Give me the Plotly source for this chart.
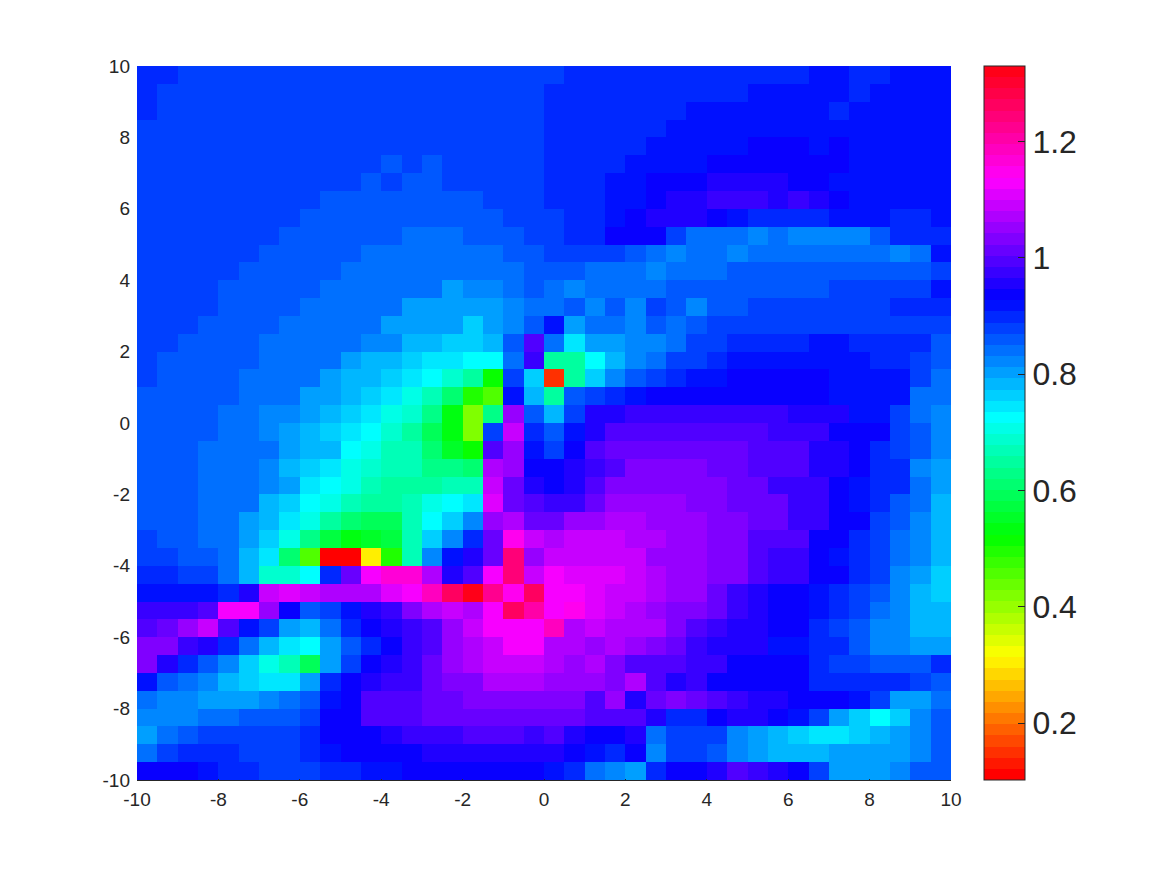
import colorsys
import plotly.graph_objects as go

x_centers = [-9.75,-9.25,-8.75,-8.25,-7.75,-7.25,-6.75,-6.25,-5.75,-5.25,
             -4.75,-4.25,-3.75,-3.25,-2.75,-2.25,-1.75,-1.25,-0.75,-0.25,
             0.25,0.75,1.25,1.75,2.25,2.75,3.25,3.75,4.25,4.75,
             5.25,5.75,6.25,6.75,7.25,7.75,8.25,8.75,9.25,9.75]
y_centers = list(reversed(x_centers))
tick_vals = [-10,-8,-6,-4,-2,0,2,4,6,8,10]
tick_text = ["-10","-8","-6","-4","-2","0","2","4","6","8","10"]
y_tick_vals = [-10,-8,-6,-4,-2,0,2,4,6,8,10]
bar_ticks = [0.2,0.4,0.6,0.8,1.0,1.2]
bar_text = ["0.2","0.4","0.6","0.8","1","1.2"]
z_min = 0.102
z_max = 1.33
n_levels = 64
level_center_shift = 0.0095

z_rows = [
[.895,.895,.87,.87,.87,.87,.87,.87,.87,.87, .87,.87,.87,.87,.87,.87,.87,.87,.87,.87, .86,.885,.885,.885,.885,.885,.885,.885,.885,.885, .885,.885,.885,.905,.905,.885,.885,.915,.915,.915],
[.895,.87,.87,.87,.87,.87,.87,.87,.87,.87, .87,.87,.87,.87,.87,.87,.87,.87,.87,.87, .885,.885,.885,.885,.885,.885,.885,.885,.885,.885, .905,.905,.905,.905,.905,.885,.915,.915,.915,.915],
[.895,.87,.87,.87,.87,.87,.87,.87,.87,.87, .87,.87,.87,.87,.87,.87,.87,.87,.87,.87, .885,.885,.885,.885,.885,.885,.885,.91,.91,.91, .91,.91,.91,.91,.885,.915,.915,.915,.915,.915],
[.87,.87,.87,.87,.87,.87,.87,.87,.87,.87, .87,.87,.87,.87,.87,.87,.87,.87,.87,.87, .885,.885,.885,.885,.885,.885,.915,.915,.915,.915, .915,.915,.915,.915,.915,.915,.915,.915,.915,.915],
[.87,.87,.87,.87,.87,.87,.87,.87,.87,.87, .87,.87,.87,.87,.87,.87,.87,.87,.87,.87, .885,.885,.885,.885,.885,.915,.915,.915,.915,.915, .92,.92,.92,.915,.92,.915,.915,.915,.915,.915],
[.87,.87,.87,.87,.87,.87,.87,.87,.87,.87, .87,.87,.855,.87,.855,.87,.87,.87,.87,.87, .885,.885,.885,.885,.91,.91,.91,.91,.92,.92, .92,.92,.92,.92,.92,.915,.915,.915,.915,.915],
[.87,.87,.87,.87,.87,.87,.87,.87,.87,.87, .87,.855,.87,.855,.855,.87,.87,.87,.87,.87, .885,.885,.885,.91,.91,.92,.92,.92,.94,.94, .94,.94,.92,.92,.91,.91,.91,.91,.91,.91],
[.87,.87,.87,.87,.87,.87,.87,.87,.87,.855, .855,.855,.855,.855,.855,.855,.855,.87,.87,.87, .885,.885,.885,.91,.91,.92,.945,.945,.965,.965, .965,.94,.97,.95,.925,.91,.91,.91,.91,.91],
[.87,.87,.87,.87,.87,.87,.87,.87,.855,.855, .855,.855,.855,.855,.855,.855,.855,.855,.87,.87, .87,.885,.885,.91,.925,.945,.945,.945,.92,.915, .885,.885,.885,.885,.91,.91,.91,.885,.885,.905],
[.87,.87,.87,.87,.87,.87,.87,.855,.855,.855, .855,.855,.855,.84,.84,.84,.855,.855,.855,.87, .865,.885,.885,.92,.92,.92,.87,.835,.835,.835, .815,.835,.81,.81,.81,.81,.85,.885,.885,.885],
[.87,.87,.87,.87,.87,.87,.855,.855,.855,.855, .855,.84,.84,.84,.84,.84,.84,.84,.855,.855, .87,.87,.87,.87,.855,.835,.815,.83,.83,.815, .83,.83,.83,.83,.83,.83,.83,.815,.825,.91],
[.87,.87,.87,.87,.87,.855,.855,.855,.855,.855, .84,.84,.84,.825,.825,.825,.825,.84,.84,.855, .855,.855,.84,.84,.84,.82,.835,.835,.835,.85, .85,.85,.85,.85,.85,.85,.85,.85,.85,.87],
[.87,.87,.87,.87,.855,.855,.855,.855,.855,.84, .84,.84,.825,.825,.825,.80,.82,.82,.83,.855, .83,.815,.835,.835,.835,.835,.855,.855,.855,.855, .855,.855,.855,.855,.87,.87,.87,.87,.87,.91],
[.87,.87,.87,.87,.855,.855,.855,.855,.84,.84, .84,.825,.825,.795,.795,.795,.795,.795,.81,.83, .83,.85,.81,.85,.805,.87,.85,.82,.85,.85, .87,.87,.87,.87,.87,.87,.87,.885,.885,.885],
[.87,.87,.87,.855,.855,.855,.855,.84,.84,.84, .825,.825,.80,.80,.785,.785,.76,.795,.81,.855, .915,.795,.835,.835,.805,.85,.83,.85,.87,.87, .87,.875,.875,.875,.875,.875,.875,.875,.875,.87],
[.87,.87,.855,.855,.855,.855,.84,.84,.84,.825, .825,.805,.805,.78,.78,.755,.755,.775,.85,.985, .83,.73,.785,.785,.805,.81,.84,.87,.87,.885, .885,.885,.885,.915,.915,.885,.885,.885,.885,.845],
[.87,.855,.855,.855,.855,.855,.84,.84,.825,.825, .79,.78,.78,.76,.735,.735,.715,.715,.83,.96, .63,.63,.725,.775,.815,.825,.87,.87,.885,.915, .915,.915,.915,.915,.915,.915,.885,.885,.87,.855],
[.87,.855,.855,.855,.855,.835,.835,.825,.825,.795, .78,.78,.76,.74,.715,.67,.63,.51,.87,.76, .14,.635,.76,.81,.85,.87,.88,.91,.91,.92, .92,.92,.92,.92,.915,.915,.915,.90,.87,.825],
[.845,.845,.845,.845,.845,.835,.835,.825,.795,.795, .78,.76,.74,.70,.66,.60,.485,.45,.905,.78, .635,.85,.87,.89,.91,.92,.92,.935,.935,.935, .935,.935,.935,.935,.915,.915,.915,.90,.83,.825],
[.845,.845,.845,.845,.835,.835,.82,.82,.79,.775, .755,.735,.695,.675,.62,.52,.41,.62,1.035,.85, .78,.875,.94,.94,.97,.97,.97,.97,.97,.97, .97,.97,.945,.945,.945,.915,.915,.86,.83,.81],
[.855,.855,.855,.855,.835,.835,.815,.79,.77,.75, .73,.715,.68,.63,.58,.52,.41,.87,1.09,.885, .85,.91,.955,.985,.985,.985,.985,.985,.985,.985, .985,.965,.965,.965,.925,.925,.925,.875,.85,.82],
[.855,.855,.855,.83,.83,.825,.825,.795,.78,.765, .715,.70,.665,.665,.60,.54,.51,.99,1.05,.91, .87,.93,.98,1.0,1.0,1.0,1.0,1.0,1.0,1.0, .985,.985,.985,.95,.95,.925,.89,.87,.85,.82],
[.855,.855,.855,.83,.83,.83,.805,.78,.76,.74, .70,.68,.655,.655,.62,.62,.60,1.06,1.04,.92, .92,.94,.96,.985,1.02,1.02,1.02,1.02,1.005,1.005, .985,.985,.985,.945,.945,.93,.88,.88,.82,.795],
[.855,.855,.855,.83,.83,.83,.81,.785,.74,.72, .69,.65,.63,.63,.63,.665,.665,1.08,1.0,.95, .935,.95,.98,1.02,1.02,1.02,1.02,1.02,1.03,1.0, 1.0,.97,.97,.97,.92,.915,.89,.88,.825,.79],
[.855,.855,.855,.83,.825,.825,.78,.75,.715,.695, .665,.635,.635,.665,.69,.715,.74,1.10,1.0,.98, .96,.97,1.0,1.04,1.04,1.04,1.04,1.02,1.02,1.0, 1.0,1.0,.97,.97,.92,.915,.885,.855,.825,.775],
[.855,.855,.855,.83,.825,.795,.775,.735,.70,.64, .60,.58,.58,.65,.715,.76,.81,1.04,1.07,1.0, 1.0,1.04,1.04,1.06,1.06,1.04,1.04,1.04,1.02,1.02, 1.0,1.0,.96,.96,.925,.92,.87,.85,.815,.775],
[.87,.855,.855,.83,.825,.795,.76,.69,.62,.56, .52,.55,.565,.665,.76,.815,.885,1.0,1.14,1.08, 1.06,1.08,1.08,1.09,1.07,1.07,1.04,1.04,1.02,1.02, .99,.99,.99,.92,.92,.89,.87,.84,.815,.775],
[.87,.87,.855,.855,.825,.78,.73,.60,.44,.09, .09,.29,.49,.65,.81,.91,.945,1.0,1.23,1.05, 1.085,1.085,1.085,1.085,1.085,1.04,1.04,1.04,1.02,1.02, .98,.96,.96,.92,.91,.89,.87,.835,.82,.775],
[.895,.895,.87,.87,.84,.78,.67,.67,.72,.89, 1.01,1.125,1.15,1.15,1.06,.95,.98,1.125,1.24,1.08, 1.125,1.10,1.10,1.10,1.08,1.07,1.05,1.05,1.03,1.02, .99,.97,.96,.92,.92,.89,.86,.82,.785,.75],
[.915,.915,.91,.91,.885,.95,1.08,1.10,1.08,1.06, 1.06,1.06,1.10,1.125,1.18,1.26,1.31,1.22,1.13,1.26, 1.125,1.125,1.10,1.08,1.08,1.07,1.04,1.04,1.0,.97, .95,.93,.92,.91,.895,.87,.855,.805,.78,.75],
[.96,.96,.96,.98,1.11,1.11,1.04,.92,.85,.87, .915,.95,.97,1.03,1.06,1.08,1.07,1.125,1.26,1.19, 1.125,1.135,1.10,1.08,1.06,1.05,1.03,1.02,1.0,.97, .95,.93,.92,.91,.88,.865,.825,.815,.78,.77],
[.985,1.01,1.04,1.08,.99,.915,.87,.79,.77,.835, .89,.92,.94,.97,.98,1.04,1.09,1.11,1.11,1.125, 1.18,1.06,1.09,1.07,1.07,1.06,1.03,.99,.97,.95, .94,.92,.92,.89,.87,.85,.82,.82,.78,.775],
[1.025,1.025,.975,.94,.895,.83,.78,.735,.715,.785, .85,.885,.92,.975,.985,1.04,1.07,1.09,1.115,1.115, 1.065,1.065,1.05,1.07,1.05,1.02,.995,.96,.95,.94, .94,.915,.915,.895,.88,.855,.82,.82,.80,.80],
[1.02,.94,.895,.855,.815,.75,.70,.66,.59,.795, .875,.92,.955,.97,1.0,1.04,1.06,1.08,1.08,1.08, 1.06,1.04,1.06,1.03,.99,.99,.98,.96,.96,.93, .92,.92,.92,.885,.865,.865,.85,.85,.85,.895],
[.905,.855,.83,.805,.77,.75,.73,.73,.79,.89, .92,.95,.97,.97,.995,1.02,1.02,1.055,1.055,1.055, 1.05,1.05,1.05,1.02,1.07,.98,.94,.96,.93,.93, .92,.92,.92,.885,.885,.885,.885,.89,.87,.85],
[.83,.815,.815,.79,.79,.79,.81,.83,.855,.90, .935,.985,.985,.985,1.0,1.0,1.03,1.03,1.03,1.03, 1.02,1.02,.99,1.04,.95,1.0,1.02,1.0,.98,.96, .94,.94,.92,.92,.92,.91,.87,.79,.79,.84],
[.815,.815,.815,.83,.83,.855,.855,.855,.87,.92, .935,.99,.99,.99,1.0,1.0,1.0,1.01,1.01,1.01, 1.0,1.0,.98,.98,.98,.94,.885,.885,.92,.94, .94,.92,.91,.87,.79,.755,.725,.755,.815,.855],
[.795,.83,.85,.87,.87,.87,.87,.87,.885,.92, .935,.935,.95,.97,.97,.97,.985,.985,.985,.96, .98,.95,.93,.92,.95,.83,.875,.86,.86,.815, .79,.77,.75,.73,.73,.75,.78,.79,.82,.855],
[.83,.87,.885,.885,.885,.87,.87,.87,.885,.91, .92,.92,.935,.935,.955,.955,.955,.955,.955,.945, .94,.93,.915,.885,.92,.81,.865,.865,.855,.815, .80,.78,.77,.77,.785,.785,.80,.80,.82,.855],
[.925,.925,.925,.91,.885,.885,.87,.87,.87,.88, .88,.905,.905,.92,.92,.935,.935,.935,.92,.92, .90,.88,.83,.82,.80,.88,.92,.93,.95,.985, .965,.945,.92,.87,.80,.80,.80,.82,.85,.85],
]
for i, row in enumerate(z_rows):
    assert len(row) == 40, (i, len(row))
assert len(z_rows) == 40
z_plot = [[v + level_center_shift for v in row] for row in z_rows]

scale = []
for i in range(n_levels):
    r, g, b = colorsys.hsv_to_rgb(i / n_levels, 1, 1)
    c = f"rgb({round(r*255)},{round(g*255)},{round(b*255)})"
    scale.append([i / n_levels, c])
    scale.append([(i + 1) / n_levels, c])

ink = "#262626"
fig = go.Figure(go.Heatmap(
    x=x_centers, y=y_centers, z=z_plot,
    zmin=z_min, zmax=z_max, colorscale=scale,
    colorbar=dict(
        thicknessmode="pixels", thickness=41,
        lenmode="fraction", len=1, x=1.0405, xanchor="left", xpad=0,
        y=0.5, yanchor="middle", ypad=0,
        outlinecolor=ink, outlinewidth=1,
        tickmode="array", tickvals=bar_ticks, ticktext=bar_text,
        ticks="inside", ticklen=7, tickcolor=ink, tickwidth=1,
        tickfont=dict(family="Liberation Sans", size=32, color=ink),
    ),
))
fig.update_layout(
    width=1167, height=875,
    margin=dict(l=137, r=216, t=66, b=95),
    paper_bgcolor="white", plot_bgcolor="white",
    font=dict(family="Liberation Sans", color=ink),
    xaxis=dict(range=[-10, 10], tickmode="array", tickvals=tick_vals, ticktext=tick_text,
               ticks="inside", ticklen=1, tickcolor=ink, showline=True, linecolor=ink, linewidth=1,
               showgrid=False, zeroline=False, tickfont=dict(size=19, color=ink), ticklabelstandoff=2),
    yaxis=dict(range=[-10, 10], tickmode="array", tickvals=y_tick_vals, ticktext=tick_text,
               ticks="", showline=False,
               showgrid=False, zeroline=False, tickfont=dict(size=19, color=ink), ticklabelstandoff=6),
)
fig.write_html("out.html", config={"displayModeBar": False},
               post_script="document.body.style.margin='0';document.body.style.overflow='hidden';")
